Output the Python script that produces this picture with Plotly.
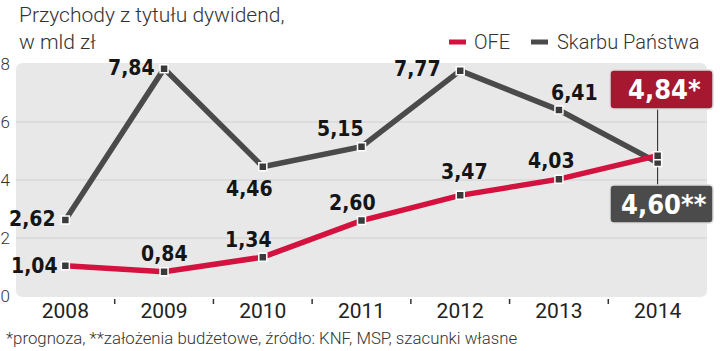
import plotly.graph_objects as go

# ---- data ----
years = [2008, 2009, 2010, 2011, 2012, 2013, 2014]
year_labels = ["2008", "2009", "2010", "2011", "2012", "2013", "2014"]
skarb = [2.62, 7.84, 4.46, 5.15, 7.77, 6.41, 4.60]
ofe = [1.04, 0.84, 1.34, 2.60, 3.47, 4.03, 4.84]
y_ticks = [0, 2, 4, 6, 8]
title_text = "Przychody z tytułu dywidend,<br>w mld zł"
footer_text = "*prognoza, **założenia budżetowe, źródło: KNF, MSP, szacunki własne"
box_ofe_text = "4,84*"
box_skarb_text = "4,60**"

# ---- label offsets (pixels), for first 6 points of each series ----
skarb_off = [(-33, 1), (-33, 1), (-13, -22), (-21, 18), (-43, 2), (16, 17)]
ofe_off = [(-31, 0), (0, 18), (-14, 17), (-9, 18), (4, 23), (-7, 18)]

W, H = 720, 351
L, R, T, B = 16, 13, 64, 55
PW = W - L - R
PH = H - T - B

def px(x):
    return (x - L) / PW

def py(y):
    return (H - B - y) / PH

def rrect(x0, y0, x1, y1, r):
    # pixel coords (y down) -> paper path with rounded corners
    rx, ry = r / PW, r / PH
    a, b, c, d = px(x0), px(x1), py(y1), py(y0)  # left, right, bottom, top
    return (f"M{a+rx},{c} L{b-rx},{c} Q{b},{c} {b},{c+ry} L{b},{d-ry} Q{b},{d} {b-rx},{d} "
            f"L{a+rx},{d} Q{a},{d} {a},{d-ry} L{a},{c+ry} Q{a},{c} {a+rx},{c} Z")

RED = "#d3123f"
GRAY = "#4a4a4a"
LBL_FONT = "DejaVu Sans Condensed"
TXT_FONT = "Roboto"

fig = go.Figure()
marker = dict(symbol="square", size=8, color="#3a3a3a", line=dict(color="white", width=1.5))
fig.add_trace(go.Scatter(x=years, y=skarb, mode="lines+markers", line=dict(color=GRAY, width=5.5),
                         marker=marker, name="Skarbu Państwa", showlegend=False))
fig.add_trace(go.Scatter(x=years, y=ofe, mode="lines+markers", line=dict(color=RED, width=5.5),
                         marker=marker, name="OFE", showlegend=False))

shapes = []
# rounded background
shapes.append(dict(type="path", path=rrect(16, 63, 707, 297, 7), xref="paper", yref="paper",
                   fillcolor="#e8e8e8", line=dict(width=0), layer="below"))
for g in [2, 4, 6]:
    shapes.append(dict(type="line", xref="paper", yref="y", x0=0, x1=1, y0=g, y1=g,
                       line=dict(color="#d0d0d0", width=1), layer="below"))
# between-category ticks
for i in range(len(years) - 1):
    xm = (years[i] + years[i + 1]) / 2
    shapes.append(dict(type="line", xref="x", yref="paper", x0=xm, x1=xm, y0=py(299), y1=py(304),
                       line=dict(color="#333", width=1.5)))
# connector
shapes.append(dict(type="line", xref="x", yref="paper", x0=years[-1], x1=years[-1],
                   y0=py(185), y1=py(109), line=dict(color="#222", width=1), layer="below"))
# boxes
shapes.append(dict(type="path", path=rrect(610, 70, 713, 109, 4), xref="paper", yref="paper",
                   fillcolor="#a6182f", line=dict(color="#dcdcdc", width=1.5)))
shapes.append(dict(type="path", path=rrect(610, 185, 713, 223, 4), xref="paper", yref="paper",
                   fillcolor="#4b4b4b", line=dict(color="#dcdcdc", width=1.5)))
# legend dashes
shapes.append(dict(type="line", xref="paper", yref="paper", x0=px(449), x1=px(466), y0=py(42), y1=py(42),
                   line=dict(color=RED, width=5)))
shapes.append(dict(type="line", xref="paper", yref="paper", x0=px(531), x1=px(548), y0=py(42), y1=py(42),
                   line=dict(color=GRAY, width=5)))

ann = []
def fmt(v):
    return f"{v:.2f}".replace(".", ",")

lbl_font = dict(family=LBL_FONT, size=21, color="#151515", weight="bold")
for i in range(6):
    dx, dy = skarb_off[i]
    ann.append(dict(x=years[i], y=skarb[i], xref="x", yref="y", text=fmt(skarb[i]), showarrow=False,
                    xanchor="center", yanchor="middle", xshift=dx, yshift=dy, font=lbl_font))
    dx, dy = ofe_off[i]
    ann.append(dict(x=years[i], y=ofe[i], xref="x", yref="y", text=fmt(ofe[i]), showarrow=False,
                    xanchor="center", yanchor="middle", xshift=dx, yshift=dy, font=lbl_font))

box_font = dict(family=LBL_FONT, size=27, color="white", weight="bold")
ann.append(dict(x=px(664), y=py(89.5), xref="paper", yref="paper", text=box_ofe_text, showarrow=False,
                xanchor="center", yanchor="middle", font=box_font))
ann.append(dict(x=px(664), y=py(204), xref="paper", yref="paper", text=box_skarb_text, showarrow=False,
                xanchor="center", yanchor="middle", font=box_font))

# title
ann.append(dict(x=px(17), y=py(1), xref="paper", yref="paper", xanchor="left", yanchor="top", align="left",
                text=title_text, showarrow=False,
                font=dict(family=TXT_FONT, size=21, color="#333", weight=300)))
# legend text
leg_font = dict(family=TXT_FONT, size=20, color="#333", weight=300)
ann.append(dict(x=px(472), y=py(42), xref="paper", yref="paper", xanchor="left", yanchor="middle",
                text="OFE", showarrow=False, font=leg_font))
ann.append(dict(x=px(555), y=py(42), xref="paper", yref="paper", xanchor="left", yanchor="middle",
                text="Skarbu Państwa", showarrow=False, font=leg_font))
# footer
ann.append(dict(x=px(4), y=py(338), xref="paper", yref="paper", xanchor="left", yanchor="middle",
                text=footer_text, showarrow=False, font=dict(family=TXT_FONT, size=16.8, color="#333", weight=300)))

fig.update_layout(
    width=W, height=H, margin=dict(l=L, r=R, t=T, b=B, autoexpand=False),
    paper_bgcolor="white", plot_bgcolor="rgba(0,0,0,0)",
    shapes=shapes, annotations=ann, showlegend=False,
    xaxis=dict(range=[2007.5, 2014.5], tickvals=years, ticktext=year_labels, showgrid=False,
               zeroline=False, showline=False, ticks="", automargin=False,
               tickfont=dict(family=TXT_FONT, size=21, color="#222")),
    yaxis=dict(range=[0, 8], tickvals=y_ticks, showgrid=False, zeroline=False, showline=False, ticks="",
               automargin=False, ticklabelstandoff=5,
               tickfont=dict(family=TXT_FONT, size=17, color="#333", weight=300)),
)

fig.write_html("out.html")
